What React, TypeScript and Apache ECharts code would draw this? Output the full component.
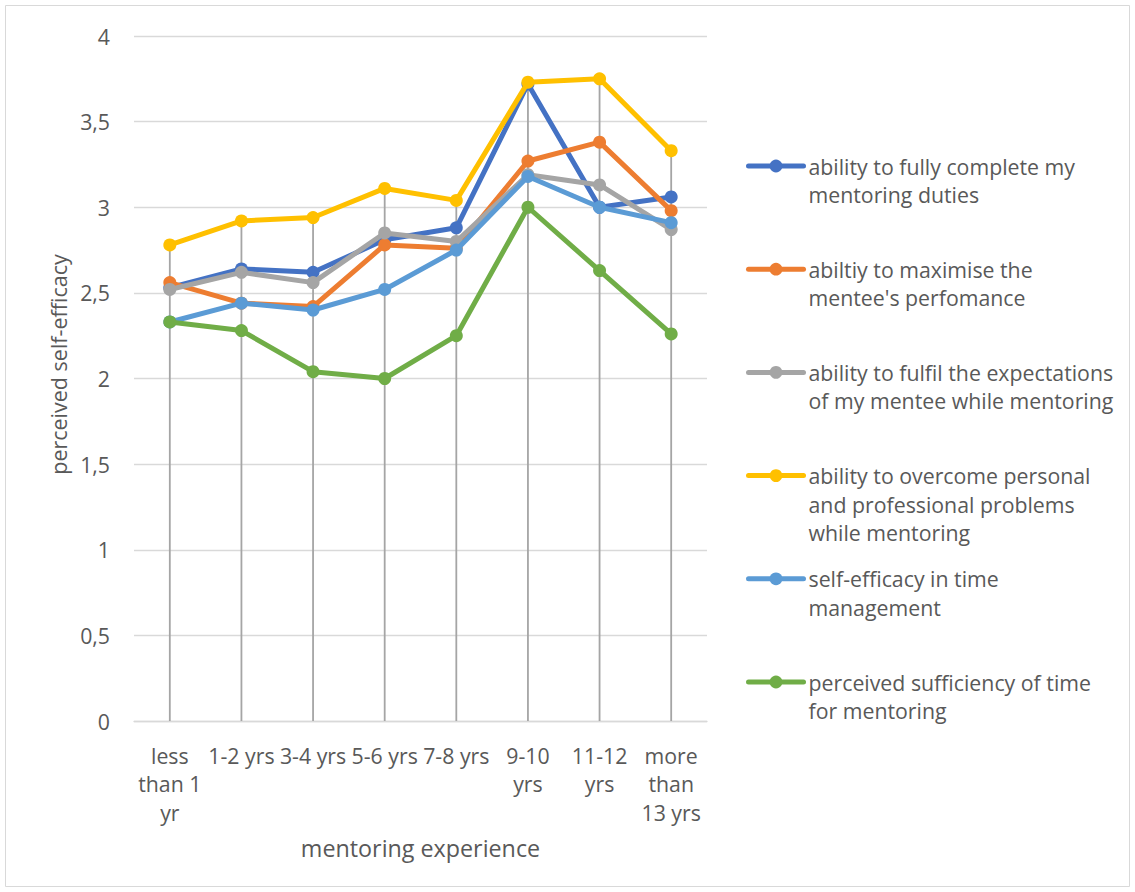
import React, { useEffect, useRef } from 'react';
import * as echarts from 'echarts';

// Mentoring experience groups (x axis)
const categories = [
  'less than 1 yr',
  '1-2 yrs',
  '3-4 yrs',
  '5-6 yrs',
  '7-8 yrs',
  '9-10 yrs',
  '11-12 yrs',
  'more than 13 yrs',
];
const categoryLabels = [
  'less\nthan 1\nyr',
  '1-2 yrs',
  '3-4 yrs',
  '5-6 yrs',
  '7-8 yrs',
  '9-10\nyrs',
  '11-12\nyrs',
  'more\nthan\n13 yrs',
];

// Self-efficacy dimensions
const seriesNames = [
  'ability to fully complete my mentoring duties',
  "abiltiy to maximise the mentee's perfomance",
  'ability to fulfil the expectations of my mentee while mentoring',
  'ability to overcome personal and professional problems while mentoring',
  'self-efficacy in time management',
  'perceived sufficiency of time for mentoring',
];
const legendLabels = [
  'ability to fully complete my\nmentoring duties',
  "abiltiy to maximise the\nmentee's perfomance",
  'ability to fulfil the expectations\nof my mentee while mentoring',
  'ability to overcome personal\nand professional problems\nwhile mentoring',
  'self-efficacy in time\nmanagement',
  'perceived sufficiency of time\nfor mentoring',
];

// Mean scores per experience group
const fullyComplete = [2.53, 2.64, 2.62, 2.81, 2.88, 3.72, 3.0, 3.06];
const maximisePerformance = [2.56, 2.44, 2.42, 2.78, 2.76, 3.27, 3.38, 2.98];
const fulfilExpectations = [2.52, 2.62, 2.56, 2.85, 2.8, 3.19, 3.13, 2.87];
const overcomeProblems = [2.78, 2.92, 2.94, 3.11, 3.04, 3.73, 3.75, 3.33];
const timeManagement = [2.33, 2.44, 2.4, 2.52, 2.75, 3.18, 3.0, 2.91];
const timeSufficiency = [2.33, 2.28, 2.04, 2.0, 2.25, 3.0, 2.63, 2.26];

const seriesValues = [
  fullyComplete,
  maximisePerformance,
  fulfilExpectations,
  overcomeProblems,
  timeManagement,
  timeSufficiency,
];
const seriesColors = ['#4472C4', '#ED7D31', '#A5A5A5', '#FFC000', '#5B9BD5', '#70AD47'];

const yTicks = { min: 0, max: 4, interval: 0.5 };

const FONT = '"Open Sans", Lato, sans-serif';
const TEXT = '#595959';
const LINE_H = 28.5;
const LABEL_SIZE = 21.3;

export default function App() {
  const ref = useRef<HTMLDivElement>(null);

  useEffect(() => {
    if (!ref.current) return;
    const chart = echarts.init(ref.current, undefined, { renderer: 'svg' });

    // Drop lines reach from the axis up to the highest point in each group
    const dropHeights = categories.map((_, i) => Math.max(...seriesValues.map((s) => s[i])));

    // One legend per series so every entry sits in its own evenly spaced slot;
    // blank leading lines keep the marker level with the first text line.
    const legends = seriesNames.map((name, i) => {
      const n = legendLabels[i].split('\n').length;
      const center = 166 + i * 103.2;
      const text = '\n'.repeat(n - 1) + legendLabels[i];
      return {
        data: [name],
        orient: 'vertical',
        left: 746,
        top: center - (LINE_H * (2 * n - 1)) / 2,
        padding: 0,
        itemWidth: 55,
        itemHeight: 16,
        selectedMode: false,
        lineStyle: { width: 5, cap: 'round' },
        formatter: () => text,
        textStyle: {
          fontFamily: FONT,
          fontSize: LABEL_SIZE,
          color: TEXT,
          lineHeight: LINE_H,
        },
      };
    });

    chart.setOption({
      animation: false,
      backgroundColor: '#ffffff',
      textStyle: { fontFamily: FONT },
      grid: {
        left: 134,
        right: 428,
        top: 36,
        bottom: 171,
        containLabel: false,
        outerBoundsMode: 'none',
      },
      legend: legends,
      xAxis: {
        type: 'category',
        data: categories,
        boundaryGap: true,
        name: 'mentoring experience',
        nameLocation: 'middle',
        nameGap: 115,
        nameTextStyle: { fontFamily: FONT, fontSize: 23.3, color: TEXT },
        axisLine: { lineStyle: { color: '#D9D9D9', width: 1.3 } },
        axisTick: { show: false },
        axisLabel: {
          interval: 0,
          margin: 20,
          fontFamily: FONT,
          fontSize: LABEL_SIZE,
          lineHeight: LINE_H,
          color: TEXT,
          formatter: (_: string, idx: number) => categoryLabels[idx],
        },
        splitLine: { show: false },
      },
      yAxis: {
        type: 'value',
        min: yTicks.min,
        max: yTicks.max,
        interval: yTicks.interval,
        name: 'perceived self-efficacy',
        nameLocation: 'middle',
        nameGap: 61,
        nameTextStyle: {
          fontFamily: FONT,
          fontSize: 21.5,
          color: TEXT,
          padding: [0, 0, 0, 28],
        },
        axisLine: { show: false },
        axisTick: { show: false },
        axisLabel: {
          margin: 24,
          fontFamily: FONT,
          fontSize: LABEL_SIZE,
          color: TEXT,
          formatter: (v: number) => String(v).replace('.', ','),
        },
        splitLine: { lineStyle: { color: '#D9D9D9', width: 1.3 } },
      },
      graphic: [
        {
          type: 'rect',
          shape: { x: 5.5, y: 5.5, width: 1124, height: 881 },
          style: { fill: 'none', stroke: '#D9D9D9', lineWidth: 1 },
          silent: true,
        },
      ],
      series: [
        {
          name: 'drop lines',
          type: 'bar',
          data: dropHeights,
          barWidth: 1.8,
          itemStyle: { color: '#A5A5A5' },
          silent: true,
          z: 1,
        },
        ...seriesNames.map((name, i) => ({
          name,
          type: 'line',
          data: seriesValues[i],
          symbol: 'circle',
          symbolSize: 13,
          color: seriesColors[i],
          itemStyle: { color: seriesColors[i] },
          lineStyle: { width: 5, color: seriesColors[i], cap: 'round', join: 'round' },
          z: 2 + i,
        })),
      ],
    });

    return () => chart.dispose();
  }, []);

  return (
    <div
      ref={ref}
      style={{ position: 'absolute', left: 0, top: 0, width: 1135, height: 892 }}
    />
  );
}
